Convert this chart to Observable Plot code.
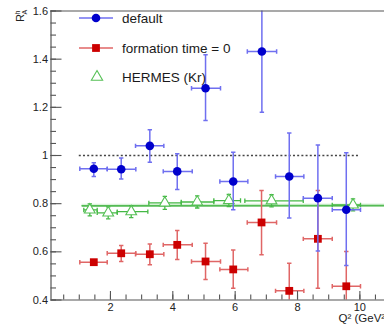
<!DOCTYPE html>
<html>
<head>
<meta charset="utf-8">
<script src="https://cdn.jsdelivr.net/npm/d3@7"></script>
<script src="https://cdn.jsdelivr.net/npm/@observablehq/plot@0.6"></script>
<style>
  html, body { margin: 0; padding: 0; background: #fff; overflow: hidden; }
  svg { display: block; }
</style>
</head>
<body>
<div id="chart"></div>
<script>
// ---- data: "default" model (blue circles) ----
const defX   = [1.466, 2.345, 3.263, 4.142, 5.05, 5.938, 6.857, 7.735, 8.653, 9.564];
const defXlo = [1.017, 1.896, 2.804, 3.693, 4.60, 5.509, 6.39, 7.295, 8.185, 9.114];
const defXhi = [1.896, 2.814, 3.712, 4.623, 5.53, 6.407, 7.33, 8.203, 9.114, 10.02];
const defY   = [0.945, 0.943, 1.040, 0.934, 1.279, 0.892, 1.432, 0.913, 0.823, 0.775];
const defYlo = [0.913, 0.902, 0.972, 0.859, 1.145, 0.775, 1.180, 0.741, 0.603, 0.543];
const defYhi = [0.970, 0.990, 1.107, 1.007, 1.418, 1.014, 1.650, 1.093, 1.044, 1.011];

// ---- data: "formation time = 0" (red squares) ----
const ftX   = [1.466, 2.345, 3.263, 4.142, 5.05, 5.938, 6.846, 7.735, 8.653, 9.564];
const ftXlo = [1.017, 1.896, 2.804, 3.693, 4.60, 5.509, 6.387, 7.295, 8.185, 9.114];
const ftXhi = [1.896, 2.814, 3.712, 4.623, 5.53, 6.407, 7.328, 8.203, 9.114, 10.02];
const ftY   = [0.557, 0.594, 0.590, 0.629, 0.560, 0.527, 0.722, 0.438, 0.654, 0.457];
const ftYlo = [0.549, 0.560, 0.546, 0.568, 0.485, 0.449, 0.588, 0.380, 0.449, 0.380];
const ftYhi = [0.565, 0.626, 0.633, 0.689, 0.636, 0.608, 0.855, 0.553, 0.855, 0.601];

// ---- data: HERMES (Kr) (green open triangles) ----
const hX   = [1.338, 1.928, 2.666, 3.744, 4.783, 5.797, 7.167, 9.78];
const hXlo = [1.145, 1.575, 2.217, 3.231, 4.270, 5.316, 6.311, 9.114];
const hXhi = [1.575, 2.217, 3.199, 4.270, 5.316, 6.172, 8.184, 10.02];
const hY   = [0.774, 0.762, 0.767, 0.803, 0.807, 0.813, 0.812, 0.795];
const hErr = [0.025, 0.025, 0.025, 0.027, 0.025, 0.025, 0.025, 0.025];

// HERMES fit line (and its band)
const fitX   = [1.09, 10.9];
const fitY   = [0.791, 0.792];
const fitLo  = [0.784, 0.785];
const fitHi  = [0.798, 0.799];

// reference line at unity
const refX = [1.0, 10.0];
const refY = 1.0;

// axes
const xDomain = [0.093, 10.79];
const yDomain = [0.4, 1.6];
const xMajor = [2, 4, 6, 8, 10];
const xMajorLabels = ["2", "4", "6", "8", "10"];
const xMinor = d3.range(0.5, 10.8, 0.5);
const yMajor = [0.4, 0.6, 0.8, 1.0, 1.2, 1.4, 1.6];
const yMajorLabels = ["0.4", "0.6", "0.8", "1", "1.2", "1.4", "1.6"];
const yMinor = d3.range(0, 25).map(i => 0.4 + i * 0.05);

const legendLabels = ["default", "formation time = 0", "HERMES (Kr)"];
const xTitle = "Q² (GeV²)";

// build tables
const def = defX.map((x, i) => ({x, xlo: defXlo[i], xhi: defXhi[i], y: defY[i], ylo: defYlo[i], yhi: defYhi[i]}));
const ft = ftX.map((x, i) => ({x, xlo: ftXlo[i], xhi: ftXhi[i], y: ftY[i], ylo: ftYlo[i], yhi: ftYhi[i]}));
const her = hX.map((x, i) => ({x, xlo: hXlo[i], xhi: hXhi[i], y: hY[i], ylo: hY[i] - hErr[i], yhi: hY[i] + hErr[i]}));
const fit = fitX.map((x, i) => ({x, y: fitY[i], lo: fitLo[i], hi: fitHi[i]}));

// cap symbols
const hcap = {draw(ctx, size) { const r = Math.sqrt(size / Math.PI); ctx.moveTo(-r, 0); ctx.lineTo(r, 0); }};
const vcap = {draw(ctx, size) { const r = Math.sqrt(size / Math.PI); ctx.moveTo(0, -r); ctx.lineTo(0, r); }};

function errorMarks(data, color, sw) {
  return [
    Plot.link(data, {x1: "xlo", x2: "xhi", y1: "y", y2: "y", stroke: color, strokeWidth: sw, clip: true}),
    Plot.link(data, {x1: "x", x2: "x", y1: "ylo", y2: "yhi", stroke: color, strokeWidth: sw, clip: true}),
    Plot.dot(data, {x: "xlo", y: "y", symbol: vcap, r: 2.2, stroke: color, strokeWidth: sw, clip: true}),
    Plot.dot(data, {x: "xhi", y: "y", symbol: vcap, r: 2.2, stroke: color, strokeWidth: sw, clip: true}),
    Plot.dot(data, {x: "x", y: "ylo", symbol: hcap, r: 2.2, stroke: color, strokeWidth: sw, clip: true}),
    Plot.dot(data, {x: "x", y: "yhi", symbol: hcap, r: 2.2, stroke: color, strokeWidth: sw, clip: true})
  ];
}

const axisColor = "#555";
const fontFamily = "'Liberation Sans', Arial, Helvetica, sans-serif";

const chart = Plot.plot({
  width: 384,
  height: 327,
  marginLeft: 50.5,
  marginRight: 0,
  marginTop: 10.5,
  marginBottom: 27.5,
  style: {fontFamily, fontSize: "11px", color: "#222", background: "#fff"},
  x: {domain: xDomain},
  y: {domain: yDomain},
  marks: [
    // HERMES fit band + line
    Plot.areaY(fit, {x: "x", y1: "lo", y2: "hi", fill: "#5cc85c", fillOpacity: 0.22, clip: true}),
    Plot.line(fit, {x: "x", y: "y", stroke: "#55bb55", strokeWidth: 1.6, clip: true}),
    // unity dashed line
    Plot.ruleY([refY], {x1: refX[0], x2: refX[1], stroke: "#444", strokeWidth: 1.4, strokeDasharray: "2,2.2"}),
    // HERMES
    ...errorMarks(her, "#44b844", 1.3),
    Plot.dot(her, {x: "x", y: "y", symbol: "triangle", r: 4.0, stroke: "#55c055", strokeWidth: 1.1, fill: "#fff"}),
    // formation time = 0
    ...errorMarks(ft, "#e06666", 1.5),
    Plot.dot(ft, {x: "x", y: "y", symbol: "square", r: 4.4, fill: "#cc0000", stroke: "none"}),
    // default
    ...errorMarks(def, "#6f6ff0", 1.5),
    Plot.dot(def, {x: "x", y: "y", symbol: "circle", r: 4.3, fill: "#0000cc", stroke: "none"}),
    // frame
    Plot.ruleX([xDomain[0]], {stroke: axisColor, strokeWidth: 1.2}),
    Plot.ruleY([yDomain[0]], {stroke: axisColor, strokeWidth: 1.2}),
    Plot.ruleY([yDomain[1]], {stroke: axisColor, strokeWidth: 1.2}),
    // axes: labels
    Plot.axisY(yMajor, {tickSize: 0, tickPadding: 3, tickFormat: (d, i) => yMajorLabels[i], fill: "#222", fontSize: 11}),
    Plot.axisX(xMajor, {tickSize: 0, tickPadding: 3, tickFormat: (d, i) => xMajorLabels[i], fill: "#222", fontSize: 11}),
    // inner ticks
    Plot.axisY(yMajor, {tickSize: -11, text: null, stroke: axisColor, strokeWidth: 1.1}),
    Plot.axisY(yMinor, {tickSize: -5.5, text: null, stroke: axisColor, strokeWidth: 1.1}),
    Plot.axisX(xMajor, {tickSize: -8.5, text: null, stroke: axisColor, strokeWidth: 1.1}),
    Plot.axisX(xMinor, {tickSize: -5, text: null, stroke: axisColor, strokeWidth: 1.1}),
    // x title
    Plot.text([xTitle], {frameAnchor: "bottom-right", dx: -46, dy: 22, textAnchor: "start", fontSize: 11.5, fill: "#222"})
  ]
});

document.getElementById("chart").appendChild(chart);

// y title: R^h_A, rotated
const svg = d3.select(chart);
const yt = svg.append("g").attr("transform", "translate(24,22) rotate(-90)")
  .attr("font-family", fontFamily).attr("fill", "#222").attr("text-anchor", "start");
yt.append("text").attr("x", 0).attr("y", 0).attr("font-size", 11).text("R");
yt.append("text").attr("x", 7.6).attr("y", -4).attr("font-size", 7).text("h");
yt.append("text").attr("x", 7.6).attr("y", 2.5).attr("font-size", 7).text("A");

// legend
const lg = svg.append("g").attr("font-family", fontFamily).attr("text-anchor", "start");
const rows = [
  {y: 18, color: "#6f6ff0", mark: "circle", fill: "#0000cc", line: true},
  {y: 48, color: "#e06666", mark: "square", fill: "#cc0000", line: true},
  {y: 77, color: "#55c055", mark: "triangle", fill: "#fff", line: false}
];
rows.forEach((r, i) => {
  if (r.line) lg.append("line").attr("x1", 79).attr("x2", 113).attr("y1", r.y).attr("y2", r.y)
    .attr("stroke", r.color).attr("stroke-width", 1.5);
  if (r.mark === "circle") lg.append("circle").attr("cx", 96).attr("cy", r.y).attr("r", 4.3).attr("fill", r.fill);
  if (r.mark === "square") lg.append("rect").attr("x", 96 - 3.9).attr("y", r.y - 3.9).attr("width", 7.8).attr("height", 7.8).attr("fill", r.fill);
  if (r.mark === "triangle") lg.append("path").attr("transform", `translate(97,${r.y})`)
    .attr("d", d3.symbol(d3.symbolTriangle, 55)()).attr("fill", "#fff").attr("stroke", r.color).attr("stroke-width", 1.1);
  lg.append("text").attr("x", 122).attr("y", r.y).attr("dy", "0.35em").attr("font-size", 13.5).attr("fill", "#1a1a1a").text(legendLabels[i]);
});
</script>
</body>
</html>
